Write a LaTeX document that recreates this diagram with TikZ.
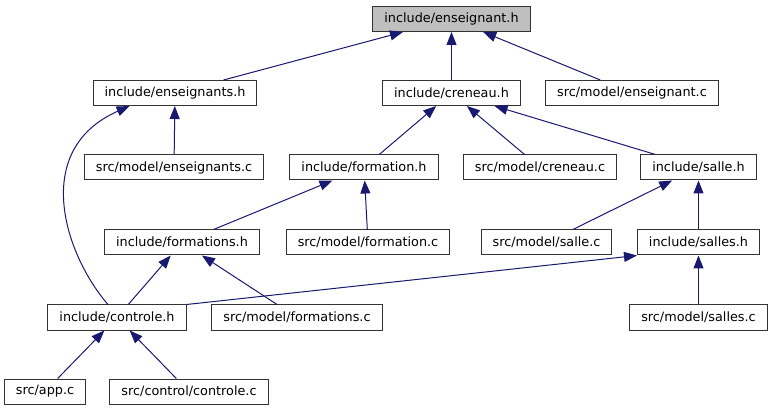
\documentclass[tikz,border=0pt]{standalone}
\usepackage{fontspec}
\setmainfont{DejaVu Sans}
\usepackage{xcolor}
\usetikzlibrary{arrows.meta}
\definecolor{edgeblue}{HTML}{191970}

\begin{document}
\begin{tikzpicture}[
    x=1pt, y=-1pt,
    file/.style={rectangle, draw=black!80, line width=1pt, fill=white, minimum height=25pt, inner xsep=11.5pt, inner ysep=0pt, font=\fontsize{12.8}{15}\selectfont},
    root/.style={file, fill=black!25},
    dep/.style={-{Triangle[length=13pt,width=10pt]}, draw=edgeblue, line width=1pt}
]
    \useasboundingbox (0,0) rectangle (773,411);

    % headers and sources
    \node[root] (ens) at (451.5,19) {include/enseignant.h};
    \node[file] (enss) at (175,93) {include/enseignants.h};
    \node[file] (cren) at (451.5,93) {include/creneau.h};
    \node[file] (ensc) at (632,93) {src/model/enseignant.c};
    \node[file] (enssc) at (174,167.5) {src/model/enseignants.c};
    \node[file] (form) at (364,167.5) {include/formation.h};
    \node[file] (crenc) at (540,167.5) {src/model/creneau.c};
    \node[file] (sal) at (698.5,167.5) {include/salle.h};
    \node[file] (forms) at (182,242.5) {include/formations.h};
    \node[file] (formc) at (368,242.5) {src/model/formation.c};
    \node[file] (salc) at (546.5,242.5) {src/model/salle.c};
    \node[file] (sals) at (698.5,242.5) {include/salles.h};
    \node[file] (ctrl) at (117,317.5) {include/controle.h};
    \node[file] (formsc) at (297,317.5) {src/model/formations.c};
    \node[file] (salsc) at (698.5,317.5) {src/model/salles.c};
    \node[file] (app) at (45,391.5) {src/app.c};
    \node[file] (ctrlc) at (189,391.5) {src/control/controle.c};

    % include edges
    \draw[dep] (enss) -- (ens);
    \draw[dep] (cren) -- (ens);
    \draw[dep] (ensc) -- (ens);
    \draw[dep] (enssc) -- (enss);
    \draw[dep] ([xshift=-9pt]ctrl.north) .. controls (65,255) and (30,150) .. ([xshift=37pt]enss.south west);
    \draw[dep] (form) -- (cren);
    \draw[dep] (crenc) -- (cren);
    \draw[dep] (sal) -- (cren);
    \draw[dep] (forms) -- (form);
    \draw[dep] (formc) -- (form);
    \draw[dep] (salc) -- (sal);
    \draw[dep] (sals) -- (sal);
    \draw[dep] (ctrl) -- (forms);
    \draw[dep] (formsc) -- (forms);
    \draw[dep] (ctrl.north east) -- (sals.south west);
    \draw[dep] (salsc) -- (sals);
    \draw[dep] (app) -- (ctrl);
    \draw[dep] (ctrlc) -- (ctrl);
\end{tikzpicture}
\end{document}
